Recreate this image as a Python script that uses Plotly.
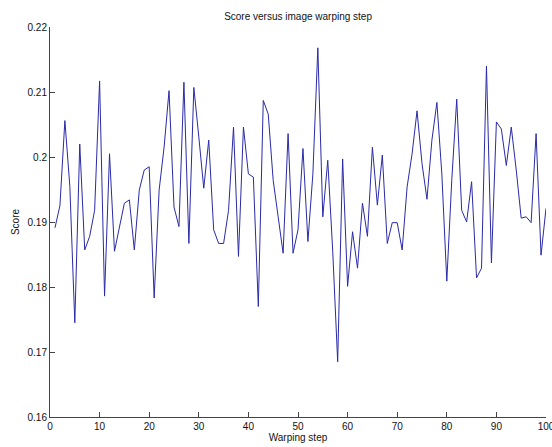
import plotly.graph_objects as go

steps = list(range(1, 101))
scores = [
    0.1891, 0.1925, 0.2056, 0.1955, 0.1745, 0.2020, 0.1857, 0.1878, 0.1918, 0.2117,
    0.1786, 0.2005, 0.1855, 0.1895, 0.1929, 0.1934, 0.1857, 0.1949, 0.1980, 0.1985,
    0.1783, 0.1949, 0.2015, 0.2102, 0.1923, 0.1893, 0.2115, 0.1867, 0.2107, 0.2031,
    0.1952, 0.2026, 0.1888, 0.1867, 0.1867, 0.1918, 0.2046, 0.1847, 0.2046, 0.1974,
    0.1969, 0.1770, 0.2087, 0.2066, 0.1964, 0.1908, 0.1852, 0.2036, 0.1852, 0.1888,
    0.2013, 0.1870, 0.1974, 0.2168, 0.1908, 0.1995, 0.1855, 0.1685, 0.1997, 0.1801,
    0.1885, 0.1829, 0.1929, 0.1878, 0.2015, 0.1926, 0.2003, 0.1867, 0.1899, 0.1899,
    0.1857, 0.1954, 0.2005, 0.2071, 0.1990, 0.1935, 0.2026, 0.2084, 0.1974, 0.1809,
    0.1964, 0.2089, 0.1918, 0.1900, 0.1962, 0.1814, 0.1829, 0.2140, 0.1837, 0.2054,
    0.2043, 0.1987, 0.2046, 0.1980, 0.1906, 0.1908, 0.1899, 0.2036, 0.1849, 0.1921,
]

x_ticks = [0, 10, 20, 30, 40, 50, 60, 70, 80, 90, 100]
y_ticks = [0.16, 0.17, 0.18, 0.19, 0.20, 0.21, 0.22]
y_tick_text = ["0.16", "0.17", "0.18", "0.19", "0.2", "0.21", "0.22"]

title_text = "Score versus image warping step"
x_title = "Warping step"
y_title = "Score"

FONT = "Liberation Sans, Arial, sans-serif"
AXIS_COLOR = "#444444"

fig = go.Figure()
fig.add_trace(go.Scatter(
    x=steps, y=scores, mode="lines",
    line=dict(color="#2a2aa8", width=1),
    hoverinfo="skip", showlegend=False,
))

fig.update_layout(
    width=552, height=447,
    margin=dict(l=50, r=6, t=27, b=30, autoexpand=False),
    paper_bgcolor="white", plot_bgcolor="white",
    font=dict(family=FONT, size=10, color="#111111"),
    title=dict(text=title_text, x=0.54, xanchor="center", y=1 - 16 / 447, yanchor="middle",
               font=dict(size=10, family=FONT, color="#111111")),
    showlegend=False,
)

fig.update_xaxes(
    range=[0, 100], tickvals=x_ticks, ticks="inside", ticklen=5, tickcolor=AXIS_COLOR,
    ticklabeloverflow="allow", automargin=False,
    showline=True, linecolor=AXIS_COLOR, linewidth=1, mirror=False,
    showgrid=False, zeroline=False,
    tickfont=dict(size=10, family=FONT, color="#111111"),
    title=dict(text=x_title, standoff=0, font=dict(size=10, family=FONT, color="#111111")),
)
fig.update_yaxes(
    range=[0.16, 0.22], tickvals=y_ticks, ticktext=y_tick_text, ticks="inside", ticklen=5,
    tickcolor=AXIS_COLOR, automargin=False,
    showline=True, linecolor=AXIS_COLOR, linewidth=1, mirror=False,
    showgrid=False, zeroline=False,
    tickfont=dict(size=10, family=FONT, color="#111111"),
    title=dict(text=y_title, standoff=6, font=dict(size=10, family=FONT, color="#111111")),
)

fig.write_html("out.html")
